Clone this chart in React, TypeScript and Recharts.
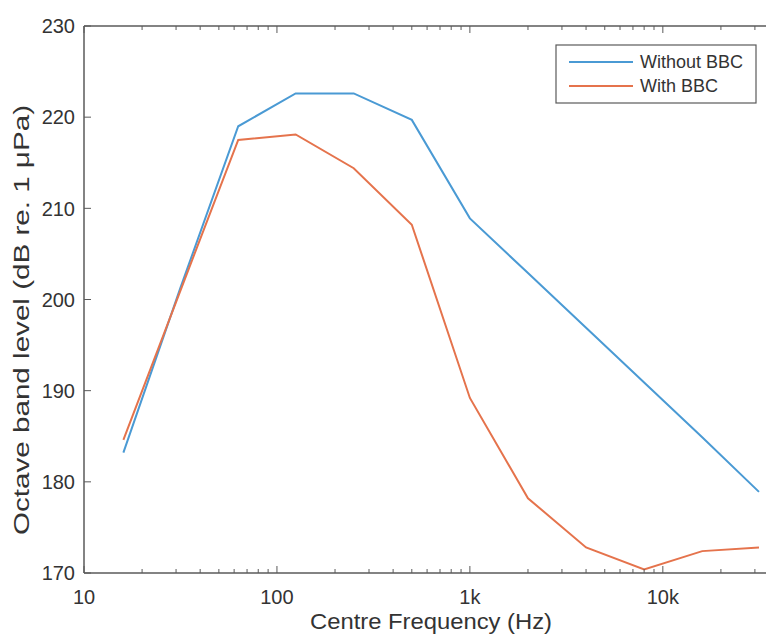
import React from 'react';
import { LineChart, Line, XAxis, YAxis } from 'recharts';

// octave band centre frequencies (Hz)
const freqs = [16, 31.5, 63, 125, 250, 500, 1000, 2000, 4000, 8000, 16000, 31500];
const withoutBBC = [183.2, 201.2, 219.0, 222.6, 222.6, 219.7, 208.9, 202.9, 196.9, 190.9, 184.9, 178.9];
const withBBC = [184.6, 200.9, 217.5, 218.1, 214.4, 208.2, 189.2, 178.2, 172.8, 170.4, 172.4, 172.8];

const majorTicks = [10, 100, 1000, 10000];
const majorLabels = ['10', '100', '1k', '10k'];
const minorTicks = [
  20, 30, 40, 50, 60, 70, 80, 90,
  200, 300, 400, 500, 600, 700, 800, 900,
  2000, 3000, 4000, 5000, 6000, 7000, 8000, 9000,
  20000, 30000,
];
const yTicks = [170, 180, 190, 200, 210, 220, 230];

const data = freqs.map((f, i) => ({ f, without: withoutBBC[i], with: withBBC[i] }));
const xTicks = [...majorTicks, ...minorTicks].sort((a, b) => a - b);

const AXIS = '#5a5a5a';
const TEXT = '#333';
const BLUE = '#4a9ad4';
const RED = '#e5734c';
const FONT = '"Liberation Sans", Arial, Helvetica, sans-serif';

// bottom axis line sits at y = 573, top at y = 26
const BottomTick = (props: any) => {
  const { x, payload } = props;
  const y = 573;
  const idx = majorTicks.indexOf(payload.value);
  const major = idx >= 0;
  return (
    <g>
      <line x1={x} x2={x} y1={y} y2={y - (major ? 7 : 4)} stroke={AXIS} />
      {major && (
        <text x={x} y={y + 31} textAnchor="middle" fontSize={20} fill={TEXT} fontFamily={FONT}>
          {majorLabels[idx]}
        </text>
      )}
    </g>
  );
};

const TopTick = (props: any) => {
  const { x, payload } = props;
  const y = 26;
  const major = majorTicks.includes(payload.value);
  return <line x1={x} x2={x} y1={y} y2={y + (major ? 7 : 4)} stroke={AXIS} />;
};

const LeftTick = (props: any) => {
  const { x, y, payload } = props;
  return (
    <g>
      <line x1={x} x2={x + 7} y1={y} y2={y} stroke={AXIS} />
      <text x={x - 9} y={y} dy="0.36em" textAnchor="end" fontSize={20} fill={TEXT} fontFamily={FONT}>
        {payload.value}
      </text>
    </g>
  );
};

export default function App() {
  return (
    <div style={{ position: 'absolute', left: 0, top: 0, width: 766, height: 635, overflow: 'hidden', background: '#fff' }}>
      <LineChart width={782} height={635} data={data} margin={{ top: 6, right: 3, bottom: 42, left: 0 }}>
        <XAxis
          dataKey="f"
          type="number"
          scale="log"
          domain={[10, 40000]}
          allowDataOverflow
          ticks={xTicks}
          interval={0}
          height={20}
          tickSize={0}
          tickMargin={0}
          tickLine={false}
          tick={<BottomTick />}
          axisLine={{ stroke: AXIS, strokeWidth: 1.5 }}
        />
        <XAxis
          xAxisId="top"
          orientation="top"
          dataKey="f"
          type="number"
          scale="log"
          domain={[10, 40000]}
          allowDataOverflow
          ticks={xTicks}
          interval={0}
          height={20}
          tickSize={0}
          tickMargin={0}
          tickLine={false}
          tick={<TopTick />}
          axisLine={{ stroke: AXIS, strokeWidth: 1.5 }}
        />
        <YAxis
          type="number"
          domain={[170, 230]}
          ticks={yTicks}
          interval={0}
          width={84}
          tickSize={0}
          tickMargin={0}
          tickLine={false}
          tick={<LeftTick />}
          axisLine={{ stroke: AXIS, strokeWidth: 1.5 }}
        />
        <Line dataKey="without" stroke={BLUE} strokeWidth={2} dot={false} isAnimationActive={false} />
        <Line dataKey="with" stroke={RED} strokeWidth={2} dot={false} isAnimationActive={false} />

        {/* axis titles */}
        <text x={431} y={629} textAnchor="middle" fontSize={22} fill={TEXT} fontFamily={FONT} textLength={242} lengthAdjust="spacingAndGlyphs">
          Centre Frequency (Hz)
        </text>
        <text
          x={29}
          y={320}
          transform="rotate(-90 29 320)"
          textAnchor="middle"
          fontSize={22}
          fill={TEXT}
          fontFamily={FONT}
          textLength={430}
          lengthAdjust="spacingAndGlyphs"
        >
          Octave band level (dB re. 1 μPa)
        </text>

        {/* legend */}
        <rect x={556} y={45} width={200} height={58} fill="#fff" stroke={AXIS} strokeWidth={1.2} />
        <line x1={569} x2={633} y1={62} y2={62} stroke={BLUE} strokeWidth={2} />
        <line x1={569} x2={633} y1={86} y2={86} stroke={RED} strokeWidth={2} />
        <text x={640} y={62} dy="0.36em" fontSize={18} fill={TEXT} fontFamily={FONT}>Without BBC</text>
        <text x={640} y={86} dy="0.36em" fontSize={18} fill={TEXT} fontFamily={FONT}>With BBC</text>
      </LineChart>
    </div>
  );
}
